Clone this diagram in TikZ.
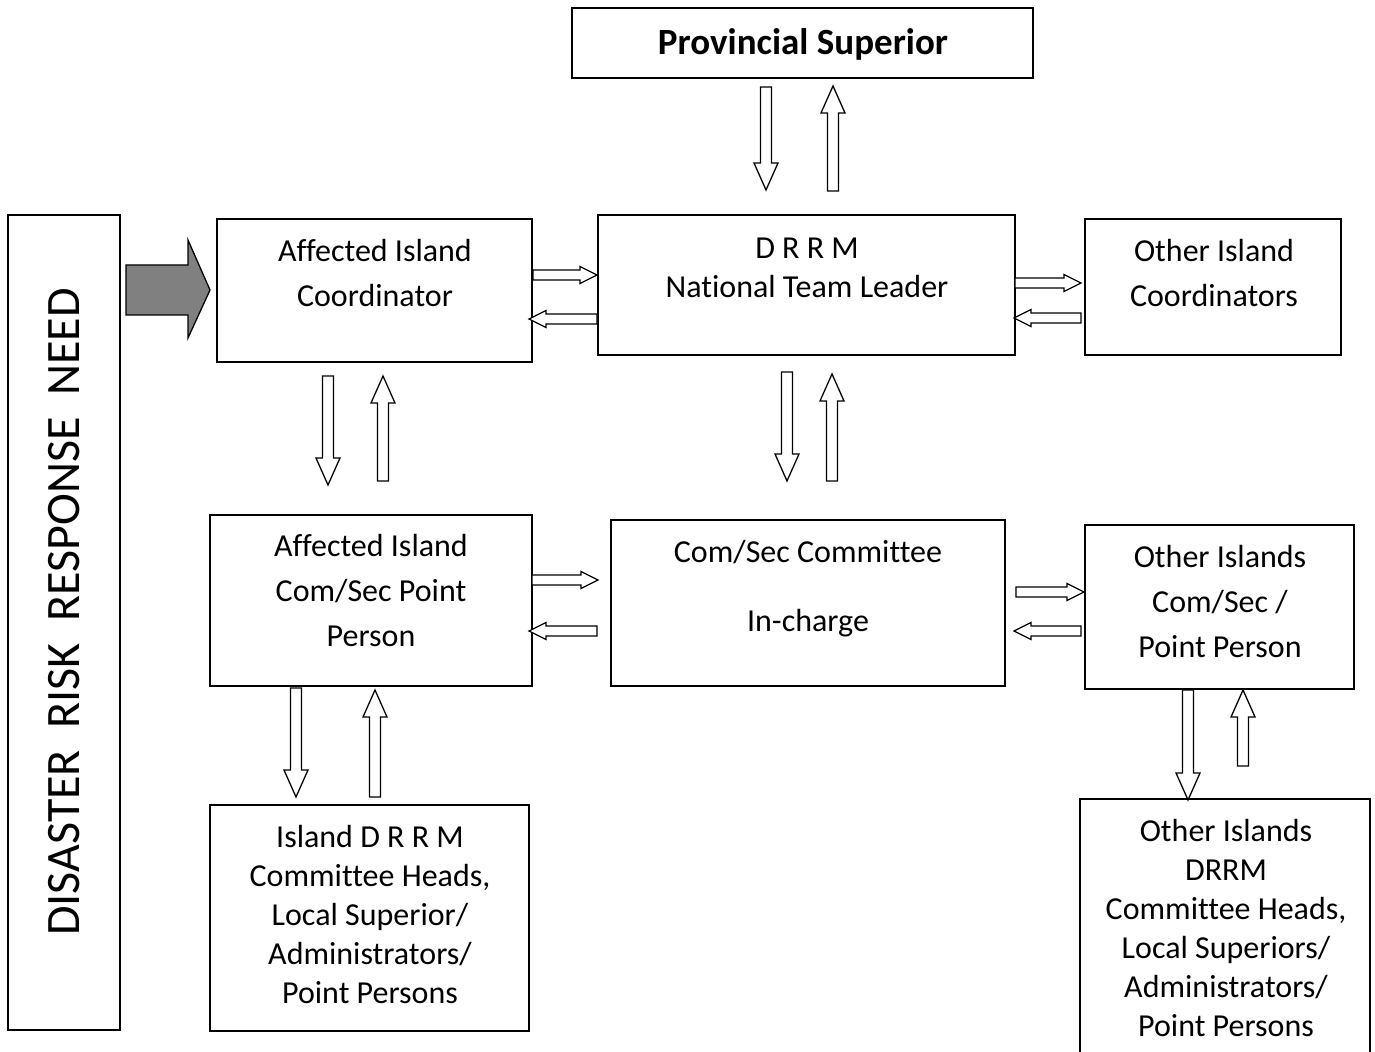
\documentclass[tikz,border=0pt]{standalone}
\usepackage{fontspec}
\setmainfont{Carlito}[Ligatures=NoCommon]
% rectangle node from its corner coordinates (in px units)
\newcommand\bx[5]{\node[box, minimum width={(#4-#2)*0.5pt}, minimum height={(#5-#3)*0.5pt}] (#1) at ({(#2+#4)/2},{(#3+#5)/2}) {};}
% hollow vertical block arrow: x, tail y, tip y
\newcommand\vblk[3]{%
  \pgfmathsetmacro\sgn{ifthenelse(#3>#2,1,-1)}%
  \draw[blk] ({#1-5.5},#2) -- ({#1-5.5},{#3-\sgn*27}) -- ({#1-12},{#3-\sgn*27}) -- (#1,#3)
    -- ({#1+12},{#3-\sgn*27}) -- ({#1+5.5},{#3-\sgn*27}) -- ({#1+5.5},#2) -- cycle;}
% hollow horizontal block arrow: y, tail x, tip x
\newcommand\hblk[3]{%
  \pgfmathsetmacro\sgn{ifthenelse(#3>#2,1,-1)}%
  \draw[blk] (#2,{#1-5}) -- ({#3-\sgn*17},{#1-5}) -- ({#3-\sgn*17},{#1-8.5}) -- (#3,#1)
    -- ({#3-\sgn*17},{#1+8.5}) -- ({#3-\sgn*17},{#1+5}) -- (#2,{#1+5}) -- cycle;}
\begin{document}
\begin{tikzpicture}[x=0.5pt,y=-0.5pt,
  box/.style={draw, line width=1pt, inner sep=0pt, outer sep=0pt},
  txt/.style={align=center, font=\fontsize{16}{22.5}\selectfont, inner sep=0pt},
  small/.style={align=center, font=\fontsize{16}{19.5}\selectfont, inner sep=0pt},
  blk/.style={draw, line width=0.65pt, fill=white, line join=miter},
]
\useasboundingbox (0,0) rectangle (1375,1052);

% boxes
\bx{ps}{572}{8}{1033}{78}
\bx{need}{8}{215}{120}{1030}
\bx{aic}{217}{219}{532}{362}
\bx{ntl}{598}{215}{1015}{355}
\bx{oic}{1085}{219}{1341}{355}
\bx{acs}{210}{515}{532}{686}
\bx{csc}{611}{520}{1005}{686}
\bx{ocs}{1085}{525}{1354}{689}
\bx{idr}{210}{805}{529}{1031}
\begin{scope}
  \clip (0,0) rectangle (1375,1052);
  \bx{odr}{1080}{799}{1370}{1070}
\end{scope}

% texts
\node[font=\fontsize{18.5}{22}\selectfont\bfseries, inner sep=0pt] (pst) at (803,44) {Provincial Superior};
\node[font=\fontsize{24}{28}\selectfont, rotate=90, inner sep=0pt] (needt) at (64,612) {DISASTER\ \ RISK\ \ RESPONSE\ \ NEED};
\node[txt] (aict) at (375,273) {Affected Island\\Coordinator};
\node[small] (ntlt) at (807,268) {D R R M\\National Team Leader};
\node[txt] (oict) at (1214,273) {Other Island\\Coordinators};
\node[txt] (acst) at (371,591) {Affected Island\\Com/Sec Point\\Person};
\node[txt] (csc1) at (808,552) {Com/Sec Committee};
\node[txt] (csc2) at (808,623) {In-charge};
\node[txt] (ocst) at (1220,602) {Other Islands\\Com/Sec /\\Point Person};
\node[small] (idrt) at (370,915) {Island D R R M\\Committee Heads,\\Local Superior/\\Administrators/\\Point Persons};
\node[small] (odrt) at (1226,928.5) {Other Islands\\DRRM\\Committee Heads,\\Local Superiors/\\Administrators/\\Point Persons};

% grey input arrow
\draw[line width=0.65pt, fill=gray] (126,265) -- (188,265) -- (188,240) -- (210,290)
  -- (188,338) -- (188,315) -- (126,315) -- cycle;

% vertical links
\vblk{766}{87}{190}
\vblk{833}{191}{86}
\vblk{328}{376}{485}
\vblk{383}{481}{376}
\vblk{787}{372}{481}
\vblk{832}{481}{374}
\vblk{296}{688}{797}
\vblk{375}{797}{690}
\vblk{1188}{690}{800}
\vblk{1243}{766}{690}

% horizontal links
\hblk{275}{533}{597}
\hblk{319}{597}{529}
\hblk{283}{1015}{1081}
\hblk{318}{1081}{1014}
\hblk{580}{532}{598}
\hblk{631}{597}{529}
\hblk{592}{1016}{1084}
\hblk{631}{1081}{1014}
\end{tikzpicture}
\end{document}
